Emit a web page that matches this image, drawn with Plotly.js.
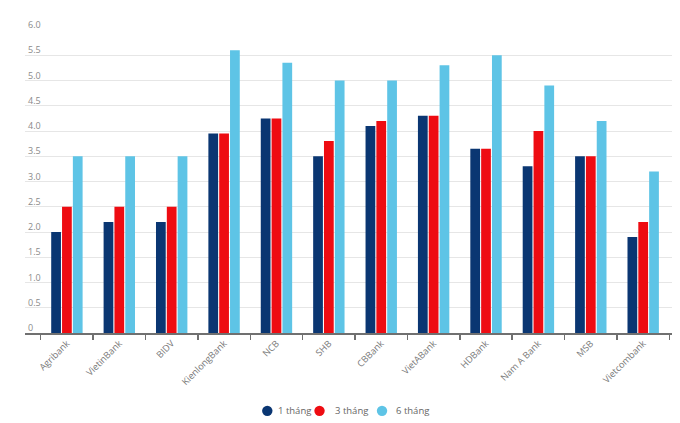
<!DOCTYPE html>
<html>
<head>
<meta charset="utf-8">
<script src="https://cdn.plot.ly/plotly-3.0.1.min.js"></script>
<style>html,body{margin:0;padding:0;background:#fff}#chart{width:680px;height:423px}</style>
</head>
<body>
<div id="chart"></div>
<script>
const banks = ["Agribank","VietinBank","BIDV","KienlongBank","NCB","SHB","CBBank","VietABank","HDBank","Nam A Bank","MSB","Vietcombank"];
const seriesNames = ["1 tháng","3 tháng","6 tháng"];
const rate1m = [2.0, 2.2, 2.2, 3.95, 4.25, 3.5, 4.1, 4.3, 3.65, 3.3, 3.5, 1.9];
const rate3m = [2.5, 2.5, 2.5, 3.95, 4.25, 3.8, 4.2, 4.3, 3.65, 4.0, 3.5, 2.2];
const rate6m = [3.5, 3.5, 3.5, 5.6, 5.35, 5.0, 5.0, 5.3, 5.5, 4.9, 4.2, 3.2];
const yTickVals = [0,0.5,1,1.5,2,2.5,3,3.5,4,4.5,5,5.5,6];
const yTickText = ["0","0.5","1.0","1.5","2.0","2.5","3.0","3.5","4.0","4.5","5.0","5.5","6.0"];

const colors = ["#0a3672","#ee0c12","#5ec4e6"];
const values = [rate1m, rate3m, rate6m];
const font = "'Open Sans', 'DejaVu Sans', sans-serif";

const traces = values.map((v, i) => ({
  type: "bar", x: banks, y: v, name: seriesNames[i],
  marker: {color: colors[i], line: {width: 0}},
  showlegend: false
}));

// custom legend (circle + label), placed below the plot
const legendCircleX = [0.3745, 0.4552, 0.5518];
const legendTextX = [0.3879, 0.4760, 0.5703];
const legendY = -0.257;
const shapes = seriesNames.map((n, i) => ({
  type: "circle", xref: "paper", yref: "paper",
  xsizemode: "pixel", ysizemode: "pixel",
  xanchor: legendCircleX[i], yanchor: legendY,
  x0: -5.2, x1: 5.2, y0: -5.2, y1: 5.2,
  fillcolor: colors[i], line: {width: 0}
}));
const annotations = seriesNames.map((n, i) => ({
  text: n, xref: "paper", yref: "paper", x: legendTextX[i], y: legendY,
  xanchor: "left", yanchor: "middle", showarrow: false,
  font: {family: font, size: 9.5, color: "#666"}
}));

const layout = {
  width: 680, height: 423,
  margin: {l: 25, r: 8, t: 30, b: 90, autoexpand: false},
  paper_bgcolor: "#fff", plot_bgcolor: "#fff",
  barmode: "group", bargap: 0.38, bargroupgap: 0.1,
  font: {family: font, size: 10, color: "#777"},
  xaxis: {
    type: "category", range: [-0.8, 11.55], automargin: false,
    showline: true, linecolor: "#707070", linewidth: 1.5,
    ticks: "outside", tickson: "boundaries", ticklen: 5, tickcolor: "#707070", tickwidth: 1.5,
    tickangle: -45, showgrid: false, zeroline: false,
    tickfont: {family: font, size: 9.2, color: "#777"}
  },
  yaxis: {
    range: [0, 6], tickvals: yTickVals, ticktext: yTickText, automargin: false,
    ticklabelposition: "inside", ticklabelshift: -5, ticklabeloverflow: "allow",
    ticklabelstandoff: 0,
    showgrid: true, gridcolor: "#e6e6e6", gridwidth: 1, zeroline: false, showline: false,
    tickfont: {family: font, size: 9, color: "#8a8a8a"}
  },
  shapes: shapes,
  annotations: annotations,
  showlegend: false
};

Plotly.newPlot("chart", traces, layout, {displayModeBar: false, staticPlot: true});
</script>
</body>
</html>
